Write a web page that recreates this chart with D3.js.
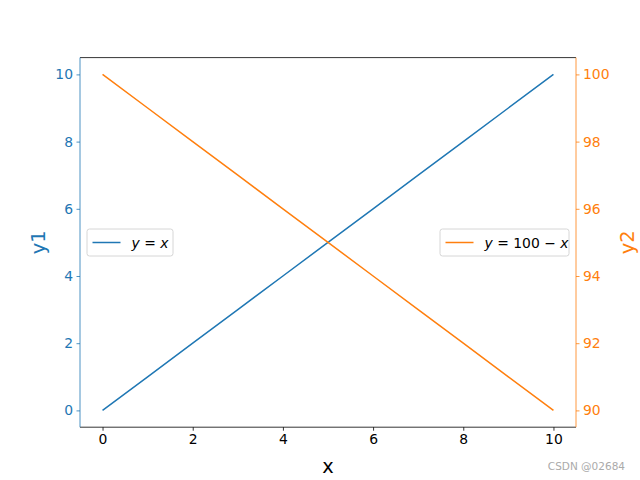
<!DOCTYPE html>
<html><head><meta charset="utf-8">
<script src="https://cdn.jsdelivr.net/npm/d3@7"></script>
<style>body{margin:0;background:#fff}svg{display:block}text{font-family:"DejaVu Sans",sans-serif}</style>
</head><body>
<svg id="c" width="640" height="480"></svg>
<script>
const xs = [0,1,2,3,4,5,6,7,8,9,10];
const y1 = [0,1,2,3,4,5,6,7,8,9,10];
const y2 = [100,99,98,97,96,95,94,93,92,91,90];
const xTicks = [0,2,4,6,8,10];
const y1Ticks = [0,2,4,6,8,10];
const y2Ticks = [90,92,94,96,98,100];
const blue = "#1f77b4", orange = "#ff7f0e";

const svg = d3.select("#c");
const L=80, R=576, T=57.6, B=427.2;
const x = d3.scaleLinear().domain([-0.5,10.5]).range([L,R]);
const ya = d3.scaleLinear().domain([-0.5,10.5]).range([B,T]);
const yb = d3.scaleLinear().domain([89.5,100.5]).range([B,T]);
svg.append("rect").attr("width",640).attr("height",480).attr("fill","#fff");

const line1 = d3.line().x((d,i)=>x(xs[i])).y(d=>ya(d));
const line2 = d3.line().x((d,i)=>x(xs[i])).y(d=>yb(d));
svg.append("path").datum(y1).attr("d",line1).attr("fill","none").attr("stroke",blue).attr("stroke-width",1.5);
svg.append("path").datum(y2).attr("d",line2).attr("fill","none").attr("stroke",orange).attr("stroke-width",1.5);

function style(g,color){
  g.select(".domain").remove();
  g.selectAll(".tick line").attr("stroke",color).attr("stroke-width",0.8);
  g.selectAll(".tick text").attr("fill",color).style("font-size","13.9px").style("font-family","DejaVu Sans");
}
const gx = svg.append("g").attr("transform",`translate(0,${B})`)
  .call(d3.axisBottom(x).tickValues(xTicks).tickSize(3.5).tickPadding(3.5).tickFormat(d3.format("d")));
style(gx,"#000");
const gl = svg.append("g").attr("transform",`translate(${L},0)`)
  .call(d3.axisLeft(ya).tickValues(y1Ticks).tickSize(3.5).tickPadding(3.5).tickFormat(d3.format("d")));
style(gl,blue);
const gr = svg.append("g").attr("transform",`translate(${R},0)`)
  .call(d3.axisRight(yb).tickValues(y2Ticks).tickSize(3.5).tickPadding(3.5).tickFormat(d3.format("d")));
style(gr,orange);

// spines
svg.append("line").attr("x1",L).attr("x2",R).attr("y1",T).attr("y2",T).attr("stroke","#000").attr("stroke-width",0.8);
svg.append("line").attr("x1",L).attr("x2",R).attr("y1",B).attr("y2",B).attr("stroke","#000").attr("stroke-width",0.8);
svg.append("line").attr("x1",L).attr("x2",L).attr("y1",T).attr("y2",B).attr("stroke",blue).attr("stroke-width",0.8);
svg.append("line").attr("x1",R).attr("x2",R).attr("y1",T).attr("y2",B).attr("stroke",orange).attr("stroke-width",0.8);

// axis labels
svg.append("text").attr("x",(L+R)/2).attr("y",473).attr("text-anchor","middle").style("font-size","19.4px").text("x");
svg.append("text").attr("transform",`translate(45,${(T+B)/2}) rotate(-90)`).attr("text-anchor","middle").attr("fill",blue).style("font-size","19.4px").text("y1");
svg.append("text").attr("transform",`translate(634,${(T+B)/2}) rotate(-90)`).attr("text-anchor","middle").attr("fill",orange).style("font-size","19.4px").text("y2");

// legends
function legend(x0,w,color,parts){
  const g = svg.append("g");
  g.append("rect").attr("x",x0).attr("y",229).attr("width",w).attr("height",27).attr("rx",2.5)
    .attr("fill","#fff").attr("fill-opacity",0.8).attr("stroke","#ccc").attr("stroke-width",0.8);
  g.append("line").attr("x1",x0+5.5).attr("x2",x0+33.5).attr("y1",242.5).attr("y2",242.5).attr("stroke",color).attr("stroke-width",1.5);
  const t = g.append("text").attr("x",x0+44.5).attr("y",247.5).style("font-size","13.9px");
  parts.forEach(p=>t.append("tspan").attr("font-style",p[1]?"italic":"normal").text(p[0]));
}
legend(87,86,blue,[["y",1],[" = ",0],["x",1]]);
legend(440,129,orange,[["y",1],[" = 100 − ",0],["x",1]]);

svg.append("text").attr("x",625).attr("y",470).attr("text-anchor","end").attr("fill","#aaa").style("font-size","10.5px").text("CSDN @02684");
</script>
</body></html>
